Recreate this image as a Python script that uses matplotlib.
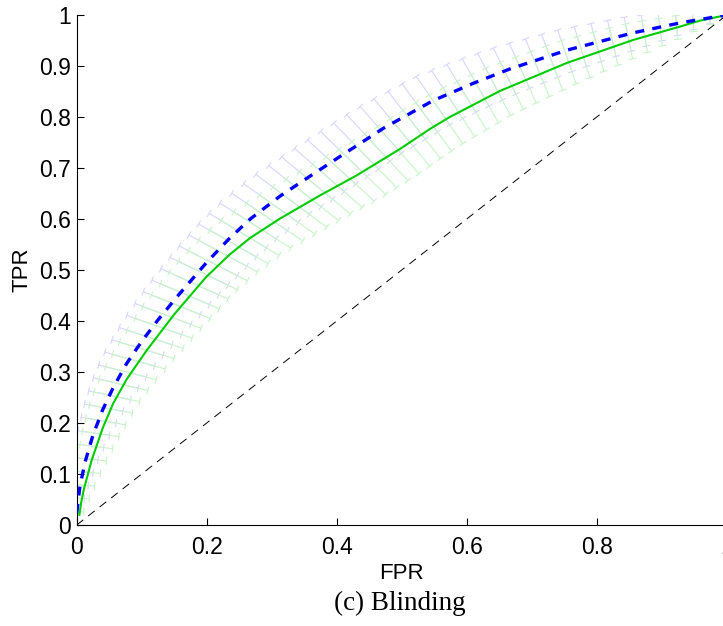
import numpy as np
import matplotlib
matplotlib.use("Agg")
import matplotlib.pyplot as plt
from matplotlib.collections import LineCollection

# ROC curve of the baseline method (blue, dashed)
fpr_base = [0.0, 0.005, 0.013, 0.025, 0.040, 0.056, 0.077, 0.100, 0.125, 0.154,
            0.200, 0.235, 0.267, 0.313, 0.359, 0.408, 0.472, 0.548, 0.610, 0.666,
            0.754, 0.856, 0.930, 1.0]
tpr_base = [0.024, 0.076, 0.124, 0.176, 0.226, 0.269, 0.317, 0.360, 0.402, 0.447,
            0.515, 0.562, 0.600, 0.645, 0.684, 0.725, 0.778, 0.832, 0.866, 0.894,
            0.931, 0.965, 0.985, 1.0]
std_base = [0.005, 0.012, 0.018, 0.024, 0.030, 0.035, 0.040, 0.043, 0.047, 0.050,
            0.053, 0.055, 0.056, 0.057, 0.057, 0.057, 0.056, 0.054, 0.051, 0.048,
            0.042, 0.033, 0.022, 0.005]

# ROC curve of the proposed method (green, solid)
fpr_prop = [0.004, 0.007, 0.011, 0.023, 0.040, 0.056, 0.077, 0.108, 0.150, 0.199,
            0.235, 0.267, 0.313, 0.374, 0.430, 0.497, 0.544, 0.574, 0.651, 0.754,
            0.856, 0.930, 0.959, 1.0]
tpr_prop = [0.020, 0.045, 0.070, 0.127, 0.190, 0.238, 0.286, 0.343, 0.413, 0.486,
            0.530, 0.563, 0.601, 0.646, 0.685, 0.737, 0.777, 0.800, 0.851, 0.906,
            0.951, 0.978, 0.989, 1.0]
std_prop = [0.005, 0.010, 0.014, 0.022, 0.030, 0.035, 0.040, 0.045, 0.050, 0.053,
            0.055, 0.056, 0.057, 0.057, 0.057, 0.056, 0.055, 0.054, 0.050, 0.044,
            0.034, 0.022, 0.015, 0.005]

x_ticks = [0, 0.2, 0.4, 0.6, 0.8, 1]
x_ticklabels = ["0", "0.2", "0.4", "0.6", "0.8", "1"]
y_ticks = [0, 0.1, 0.2, 0.3, 0.4, 0.5, 0.6, 0.7, 0.8, 0.9, 1]
y_ticklabels = ["0", "0.1", "0.2", "0.3", "0.4", "0.5", "0.6", "0.7", "0.8", "0.9", "1"]

plt.rcParams["font.family"] = ["Liberation Sans", "DejaVu Sans"]
plt.rcParams["lines.scale_dashes"] = False

W, H = 723, 626
fig = plt.figure(figsize=(W / 100, H / 100), dpi=100)
ax = fig.add_axes([76.7 / W, 1 - 525 / H, 650 / W, 510 / H])
ax.set_xlim(0, 1)
ax.set_ylim(0, 1)


def radial_bars(fx, fy, fs, step_deg=1.5, cap_px=4.0):
    """Error bars measured along rays from (1, 0), evenly spaced in angle."""
    fx, fy, fs = map(np.asarray, (fx, fy, fs))
    phi = np.arctan2(fy, fx - 1.0)
    origin = np.array([1.0, 0.0])
    to_disp = ax.transData
    to_data = ax.transData.inverted()
    segs = []
    for th in np.deg2rad(np.arange(180.0, 90.0 - 1e-9, -step_deg)):
        idx = np.where((phi[:-1] >= th) & (phi[1:] <= th))[0]
        if len(idx) == 0:
            continue
        i = idx[0]
        d = np.array([np.cos(th), np.sin(th)])
        p0 = np.array([fx[i], fy[i]])
        p1 = np.array([fx[i + 1], fy[i + 1]])
        A = np.column_stack([d, -(p1 - p0)])
        r, t = np.linalg.solve(A, p0 - origin)
        c = origin + r * d
        s = fs[i] + t * (fs[i + 1] - fs[i])
        a = c - s * d
        b = c + s * d
        segs.append([a, b])
        da, db = to_disp.transform([a, b])
        v = db - da
        n = np.array([-v[1], v[0]]) / np.hypot(*v) * cap_px
        for e in (da, db):
            segs.append(to_data.transform([e - n, e + n]))
    return segs


ax.add_collection(LineCollection(radial_bars(fpr_base, tpr_base, std_base),
                                 colors=(0.84, 0.84, 1.0), linewidths=0.8, zorder=1))
ax.add_collection(LineCollection(radial_bars(fpr_prop, tpr_prop, std_prop),
                                 colors=(0.78, 0.96, 0.78), linewidths=0.8, zorder=2))

ax.plot([0, 1], [0, 1], color="black", lw=0.7, dashes=(6.0, 4.5), zorder=3)
ax.plot(fpr_prop, tpr_prop, color=(0.0, 0.8, 0.0), lw=1.5, zorder=4)
ax.plot(fpr_base, tpr_base, color=(0.0, 0.0, 1.0), lw=2.4, dashes=(6.5, 6.0), zorder=5)

for side in ("top", "right"):
    ax.spines[side].set_visible(False)
for side in ("left", "bottom"):
    ax.spines[side].set_linewidth(0.8)
    ax.spines[side].set_color("black")

ax.set_xticks(x_ticks)
ax.set_xticklabels(x_ticklabels)
ax.set_yticks(y_ticks)
ax.set_yticklabels(y_ticklabels)
ax.tick_params(direction="in", length=5, width=0.8, labelsize=16.5)
ax.tick_params(axis="x", pad=8)
ax.tick_params(axis="y", pad=4)

ax.set_xlabel("FPR", fontsize=16, labelpad=3)
ax.set_ylabel("TPR", fontsize=16, labelpad=5)

fig.text(400 / W, 1 - 603 / H, "(c) Blinding", ha="center", va="center",
         fontsize=19.5, family=["Liberation Serif", "DejaVu Serif"])

fig.savefig("out.png", dpi=100)
